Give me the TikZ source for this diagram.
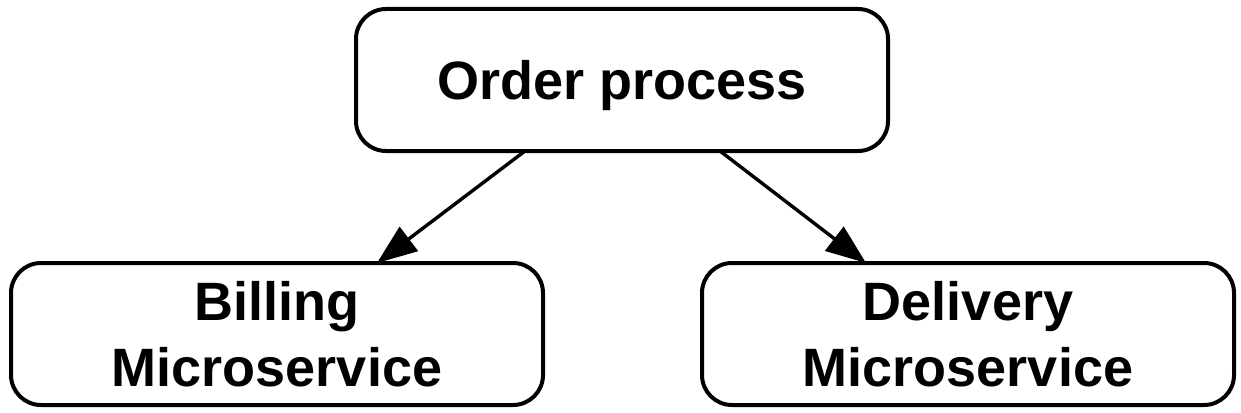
\documentclass[tikz,border=0pt]{standalone}
\usepackage{fontspec}
\setmainfont{Liberation Sans}
\usetikzlibrary{arrows.meta}
\begin{document}
\begin{tikzpicture}[x=1pt,y=-1pt,
  box/.style={draw=black, line width=4pt, rounded corners=30pt, rectangle,
    minimum width=532pt, minimum height=142pt, inner sep=0pt, outer sep=0pt,
    align=center, font=\fontsize{54}{66}\selectfont\bfseries},
  arr/.style={draw=black, line width=3.4pt, -{Triangle[length=40pt,width=30pt]}}]
\useasboundingbox (0,0) rectangle (1241,412);
\node[box, text depth=0pt] (top) at (622,80) {Order process};
\node[box] (bl) at (277,334) {Billing\\Microservice};
\node[box] (br) at (968,334) {Delivery\\Microservice};
\draw[arr] ([xshift=-97pt]top.south) -- ([xshift=100pt]bl.north);
\draw[arr] ([xshift=98pt]top.south) -- ([xshift=-102pt]br.north);
\end{tikzpicture}
\end{document}
